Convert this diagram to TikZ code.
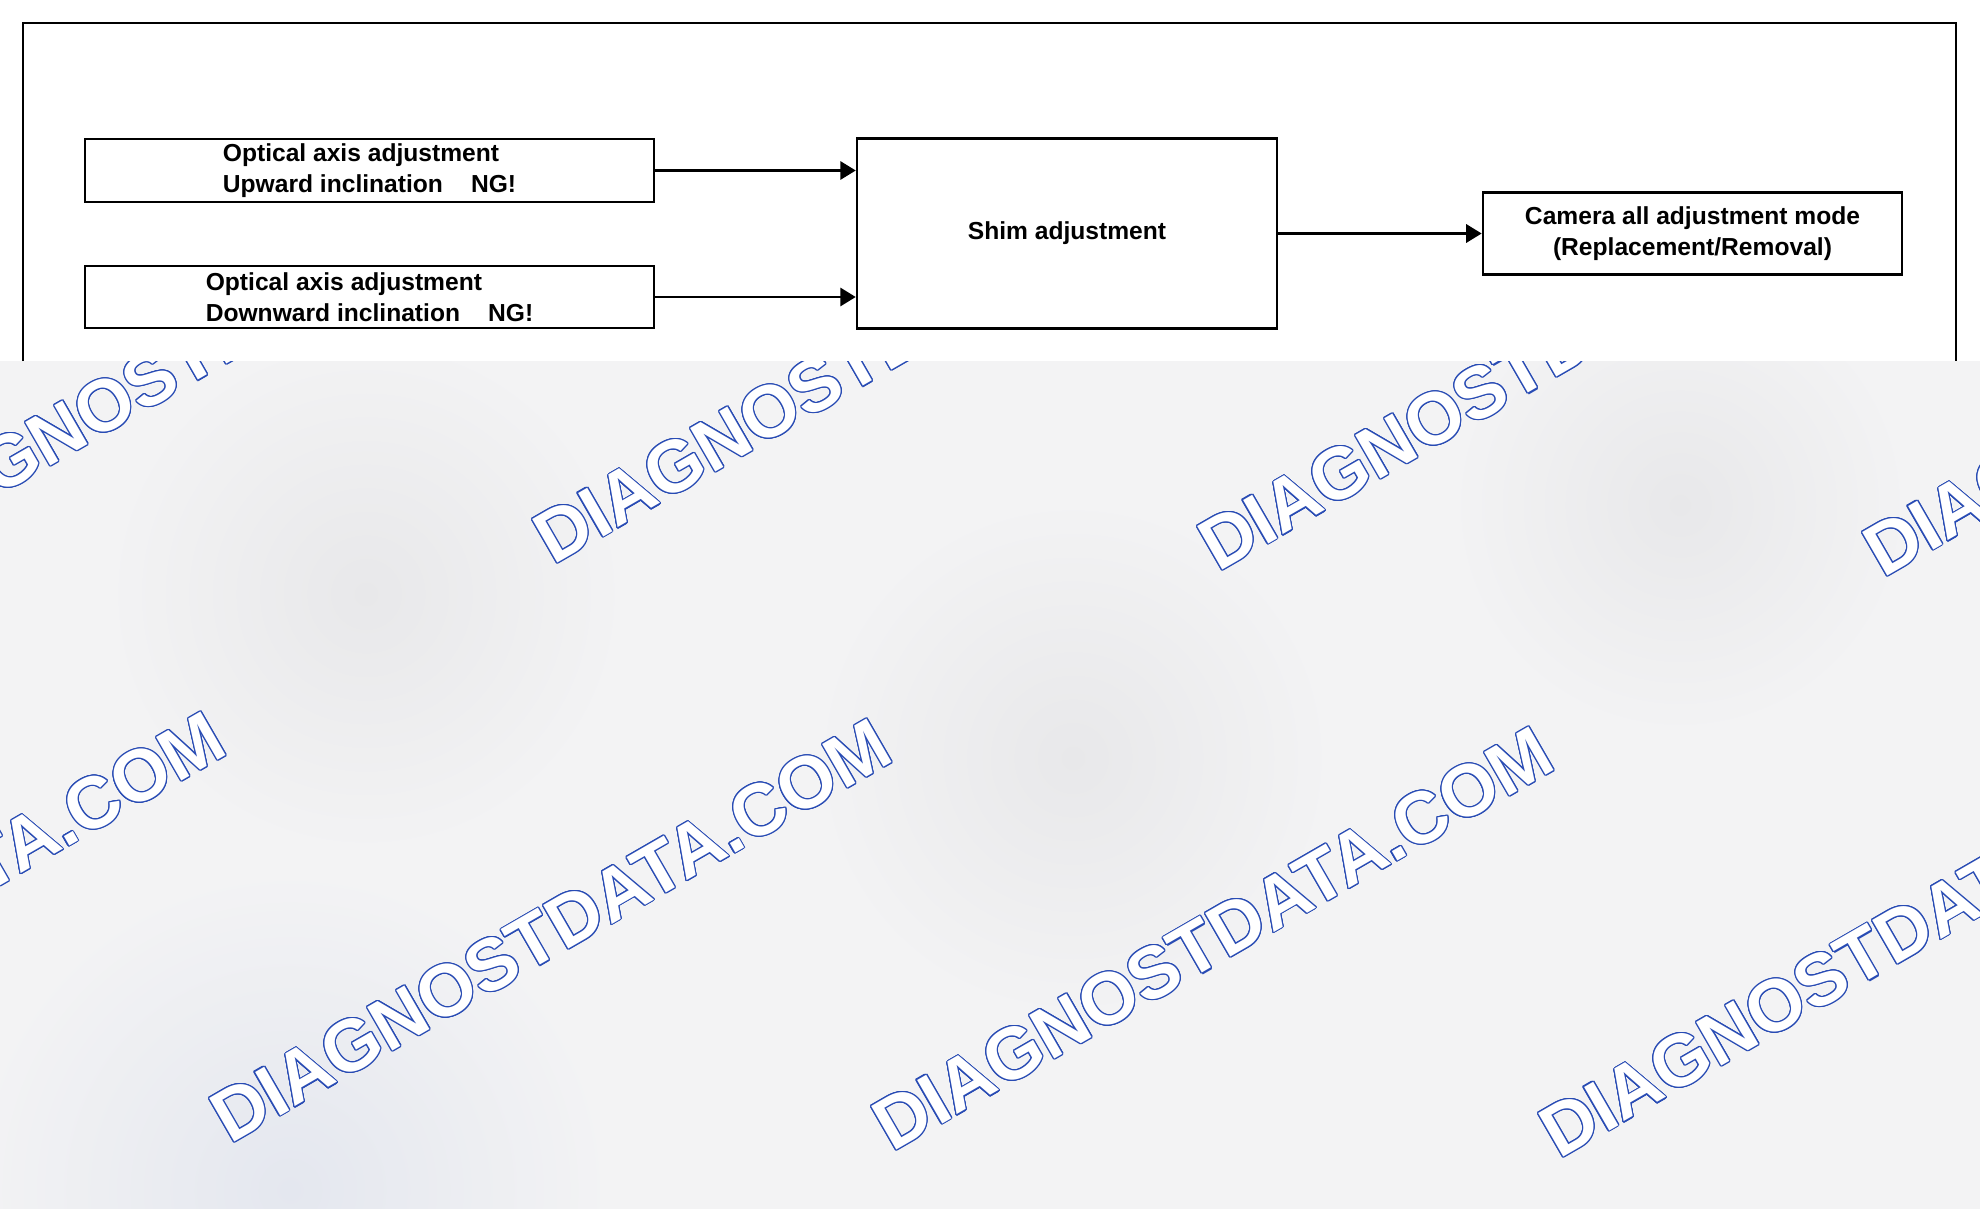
\documentclass[tikz,border=0pt]{standalone}
\usepackage{fontspec}
\setmainfont{Liberation Sans}
\usepackage{contour}
\contourlength{0.8pt}
\usetikzlibrary{arrows.meta}

\definecolor{bgcol}{RGB}{243,243,244}
\definecolor{spotcol}{RGB}{232,232,234}
\definecolor{bluecol}{RGB}{228,231,239}
\definecolor{wmblue}{RGB}{40,75,180}

\tikzset{
  stepbox/.style={draw,line width=1.7pt,inner sep=0pt,
    font=\fontsize{17.5}{22}\selectfont\bfseries},
  flow/.style={line width=1.7pt,-{Triangle[length=11pt,width=13pt]}},
  wmark/.style={rotate=30,anchor=base west,text=white,
    font=\fontsize{52}{60}\selectfont\bfseries}
}

\begin{document}
\begin{tikzpicture}[x=0.025cm,y=-0.025cm]
\useasboundingbox (0,0) rectangle (1980,1209);
\fill[white] (0,0) rectangle (1980,361);
\fill[bgcol] (0,361) rectangle (1980,1209);
% watermark area
\begin{scope}
\clip (0,361) rectangle (1980,1209);
\shade[inner color=spotcol,outer color=bgcol] (366,594) circle (260);
\shade[inner color=spotcol,outer color=bgcol] (1073,758) circle (260);
\shade[inner color=spotcol,outer color=bgcol] (1680,505) circle (230);
\shade[inner color=bluecol,outer color=bgcol] (290,1190) circle (320);
\foreach \x/\y in {-440/1140,226/1147,888/1155,1555/1162,-116/562,549/568,1214/575,1879/581}
  \node[wmark] at (\x,\y) {\contour{wmblue}{DIAGNOSTDATA.COM}};
\end{scope}
% frame
\draw[line width=1.5pt] (23,361) -- (23,23) -- (1956,23) -- (1956,361);
% boxes
\node[stepbox,minimum width=14.23cm,minimum height=1.58cm,align=left] (up) at (369.5,170.5)
  {Optical axis adjustment\\Upward inclination\hspace{0.7cm}NG!};
\node[stepbox,minimum width=14.23cm,minimum height=1.55cm,align=left] (down) at (369.5,297)
  {Optical axis adjustment\\Downward inclination\hspace{0.7cm}NG!};
\node[stepbox,minimum width=10.5cm,minimum height=4.75cm] (shim) at (1067,233.5) {Shim adjustment};
\node[stepbox,minimum width=10.48cm,minimum height=2.05cm,align=center] (camera) at (1692.5,233.5)
  {Camera all adjustment mode\\(Replacement/Removal)};
% arrows
\draw[flow] (up.east) -- (up.east -| shim.west);
\draw[flow] (down.east) -- (down.east -| shim.west);
\draw[flow] (shim.east) -- (camera.west);
\end{tikzpicture}
\end{document}
